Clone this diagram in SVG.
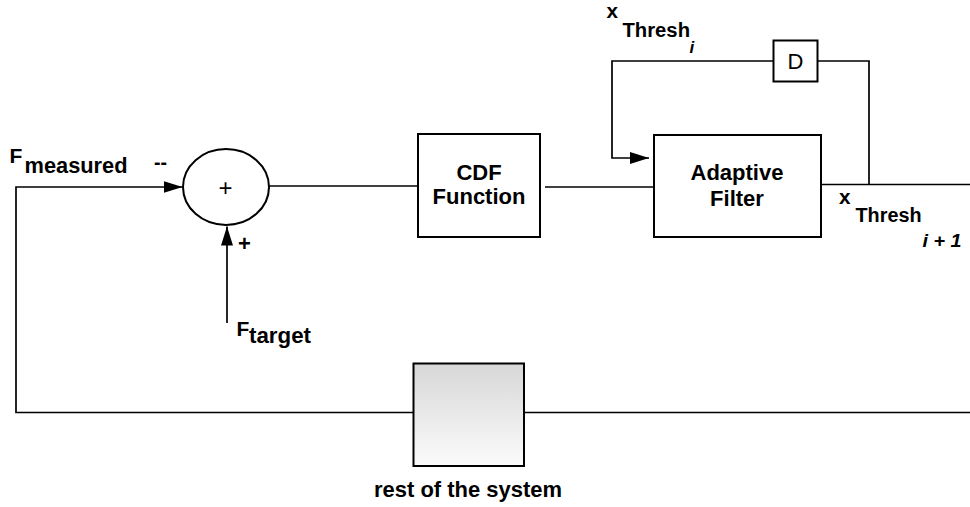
<svg xmlns="http://www.w3.org/2000/svg" width="970" height="507" viewBox="0 0 970 507">
  <style>
    .box { fill: #fff; stroke: #000; stroke-width: 2; }
    .wire { fill: none; stroke: #000; stroke-width: 1.7; }
    .lbl { font-family: "Liberation Sans", Arial, sans-serif; font-weight: bold; fill: #000; }
    .reg { font-family: "Liberation Sans", Arial, sans-serif; font-weight: normal; fill: #000; }
    .it { font-style: italic; }
    .mid { text-anchor: middle; }
  </style>
  <defs>
    <marker id="arrow" viewBox="0 0 19 12" refX="19" refY="6" markerWidth="19" markerHeight="12" markerUnits="userSpaceOnUse" orient="auto">
      <path d="M0,0 L19,6 L0,12 z" fill="#000"/>
    </marker>
    <linearGradient id="plantFill" x1="0" y1="0" x2="0" y2="1">
      <stop offset="0" stop-color="#d7d7d7"/>
      <stop offset="1" stop-color="#fbfbfb"/>
    </linearGradient>
  </defs>

  <!-- connectors -->
  <g id="connectors">
    <!-- feedback from the plant output back to the summing junction -->
    <path class="wire" d="M970,412.5 L524,412.5"/>
    <path class="wire" d="M413,412.5 L16,412.5 L16,187 L182.5,187" marker-end="url(#arrow)"/>
    <!-- reference input -->
    <path class="wire" d="M227,323 L227,226.5" marker-end="url(#arrow)"/>
    <!-- forward path -->
    <path class="wire" d="M269,186 L418,186"/>
    <path class="wire" d="M545,187 L654,187"/>
    <path class="wire" d="M821,184.5 L970,184.5"/>
    <!-- delayed threshold loop -->
    <path class="wire" d="M869,184.5 L869,61 L818,61"/>
    <path class="wire" d="M773,61 L612,61 L612,158 L649,158" marker-end="url(#arrow)"/>
  </g>

  <!-- summing junction -->
  <g id="sum">
    <ellipse class="box" cx="226" cy="187" rx="43" ry="38"/>
    <text class="reg mid" x="225.5" y="196" font-size="24">+</text>
  </g>

  <!-- CDF block -->
  <g id="cdf">
    <rect class="box" x="418" y="134" width="122" height="103"/>
    <text class="lbl mid" x="479" y="179.5" font-size="22">CDF</text>
    <text class="lbl mid" x="479" y="204" font-size="22">Function</text>
  </g>

  <!-- adaptive filter block -->
  <g id="adaptive">
    <rect class="box" x="654" y="135" width="167" height="102"/>
    <text class="lbl mid" x="737" y="180" font-size="22">Adaptive</text>
    <text class="lbl mid" x="737" y="205.5" font-size="22">Filter</text>
  </g>

  <!-- unit delay -->
  <g id="delay">
    <rect class="box" x="773.5" y="40.5" width="44" height="41"/>
    <text class="reg mid" x="795.5" y="69" font-size="22">D</text>
  </g>

  <!-- rest of the system -->
  <g id="plant">
    <rect x="413.5" y="363.5" width="110.5" height="102.5" fill="url(#plantFill)" stroke="#000" stroke-width="2"/>
    <text class="lbl mid" x="468" y="497" font-size="22" textLength="188" lengthAdjust="spacingAndGlyphs">rest of the system</text>
  </g>

  <!-- signal labels -->
  <g id="labels">
    <text class="lbl" x="9.5" y="163" font-size="21">F</text>
    <text class="lbl" x="24.5" y="172.5" font-size="22" textLength="103" lengthAdjust="spacingAndGlyphs">measured</text>
    <text class="lbl" x="154" y="169" font-size="20" textLength="13" lengthAdjust="spacingAndGlyphs">--</text>
    <text class="lbl mid" x="244.5" y="251" font-size="22">+</text>
    <text class="lbl" x="236.5" y="336" font-size="21">F</text>
    <text class="lbl" x="249" y="343" font-size="22" textLength="62" lengthAdjust="spacingAndGlyphs">target</text>

    <text class="lbl" x="606.5" y="18" font-size="20" textLength="11.5" lengthAdjust="spacingAndGlyphs">x</text>
    <text class="lbl" x="622.5" y="37" font-size="20" textLength="67.5" lengthAdjust="spacingAndGlyphs">Thresh</text>
    <text class="lbl it" x="689.5" y="52.5" font-size="17">i</text>

    <text class="lbl" x="839" y="204" font-size="20" textLength="11.5" lengthAdjust="spacingAndGlyphs">x</text>
    <text class="lbl" x="855.5" y="222" font-size="20" textLength="66" lengthAdjust="spacingAndGlyphs">Thresh</text>
    <text class="lbl it" x="922.5" y="246.5" font-size="19" textLength="39" lengthAdjust="spacingAndGlyphs">i + 1</text>
  </g>
</svg>
